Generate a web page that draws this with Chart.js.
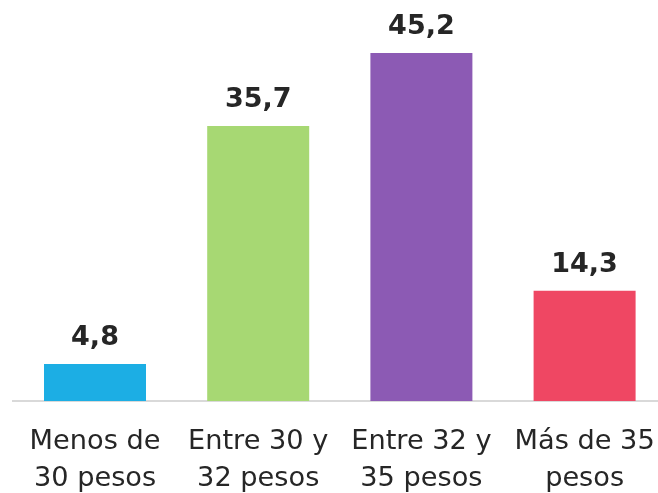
<!DOCTYPE html>
<html>
<head>
<meta charset="utf-8">
<script src="https://cdn.jsdelivr.net/npm/chart.js@4"></script>
<style>
html,body{margin:0;padding:0;overflow:hidden;background:#fff;width:658px;height:493px;}
#wrap{width:680px;height:493px;}
</style>
</head>
<body>
<div id="wrap"><canvas id="c" width="680" height="493"></canvas></div>
<script>
const categories = [["Menos de","30 pesos"],["Entre 30 y","32 pesos"],["Entre 32 y","35 pesos"],["Más de 35","pesos"]];
const values = [4.8, 35.7, 45.2, 14.3];
const valueLabels = ["4,8","35,7","45,2","14,3"];
const colors = ["#1CAEE4","#A7D873","#8C5AB4","#EF4763"];

const valuePlugin = {
  id: 'valueLabels',
  afterDatasetsDraw(chart) {
    const ctx = chart.ctx;
    const meta = chart.getDatasetMeta(0);
    ctx.save();
    ctx.font = 'bold 27px "DejaVu Sans"';
    ctx.fillStyle = '#262626';
    ctx.textAlign = 'center';
    ctx.textBaseline = 'alphabetic';
    meta.data.forEach((el, i) => {
      ctx.fillText(valueLabels[i], el.x, el.y - 19);
    });
    ctx.restore();
  }
};

new Chart(document.getElementById('c'), {
  type: 'bar',
  data: {
    labels: categories,
    datasets: [{
      data: values,
      backgroundColor: colors,
      barPercentage: 0.625,
      categoryPercentage: 1
    }]
  },
  options: {
    responsive: false,
    animation: false,
    layout: { padding: { left: 13.4, right: 13.8, top: 16, bottom: -19 } },
    plugins: { legend: { display: false }, tooltip: { enabled: false } },
    scales: {
      y: { display: false, min: 0, max: 50 },
      x: {
        grid: { display: false },
        border: { display: true, color: '#d9d9d9', width: 2 },
        ticks: {
          color: '#262626',
          font: { family: '"DejaVu Sans"', size: 27.2, lineHeight: 1.38 },
          padding: 14,
          maxRotation: 0,
          autoSkip: false
        }
      }
    }
  },
  plugins: [valuePlugin]
});
</script>
</body>
</html>
